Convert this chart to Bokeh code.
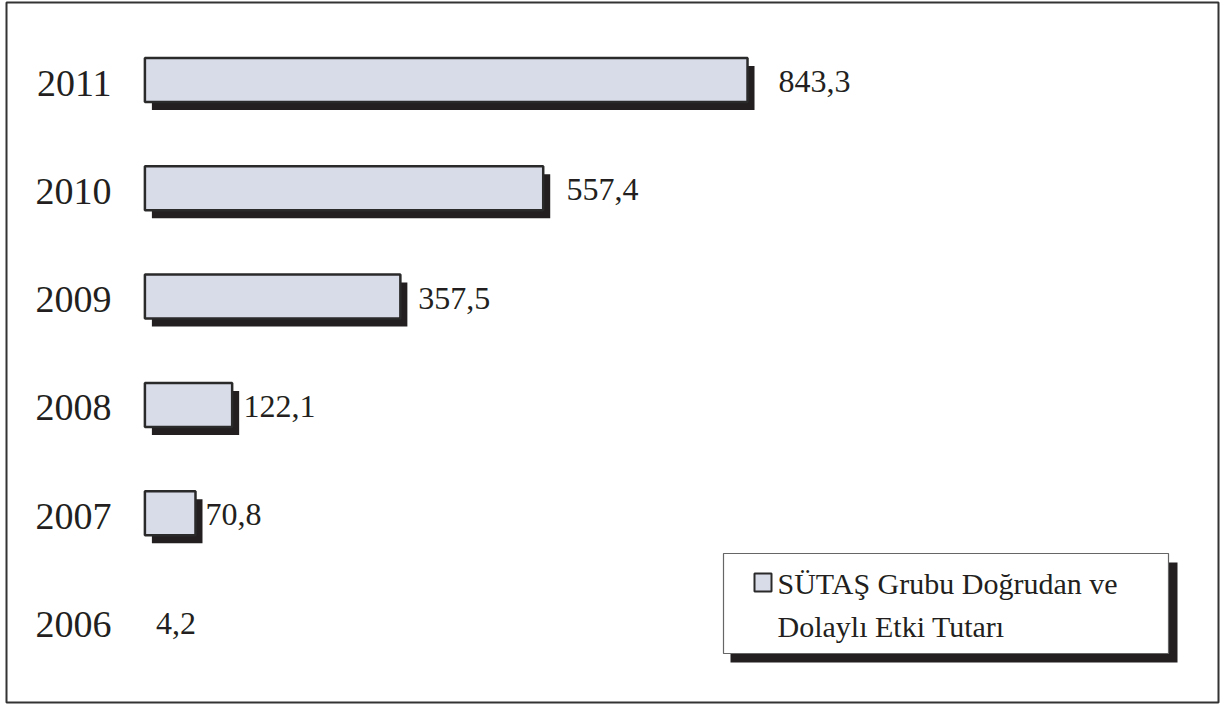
from bokeh.plotting import figure
from bokeh.models import Range1d, ColumnDataSource
from bokeh.embed import file_html
from bokeh.resources import INLINE
from bokeh.core.properties import value

# ---- data ----
years = ["2006", "2007", "2008", "2009", "2010", "2011"]
amounts = [4.2, 70.8, 122.1, 357.5, 557.4, 843.3]
amount_labels = ["4,2", "70,8", "122,1", "357,5", "557,4", "843,3"]
legend_lines = ["SÜTAŞ Grubu Doğrudan ve", "Dolaylı Etki Tutarı"]
MIN_VISIBLE = 10  # bars below this value are not drawn (as in the source chart)

# ---- layout constants (page pixels) ----
W, H = 1220, 704
FL, FT, FR, FB = 6, 2, 1218, 702       # frame (outer border) edges
BAR_X0, BAR_K = 144.4, 0.7146          # bar scale: x = BAR_X0 + BAR_K * v
LBL_X0, LBL_K = 152.5, 0.7417          # value-label scale
Y_TOP, Y_STEP = 79.5, 108.3            # center of top category, spacing
SHADOW_DX, SHADOW_DY = 7, 8
FONT = value("Liberation Serif")
BAR_FILL = "#d8dbe8"
DARK = "#231f20"
n = len(years)


def xr(x0, k, shift=0.0):
    return Range1d((FL - x0 - shift) / k, (FR - x0 - shift) / k)


def yr(shift=0.0):
    top = (n - 1) + (Y_TOP + shift - FT) / Y_STEP
    bottom = (n - 1) - (FB - Y_TOP - shift) / Y_STEP
    return Range1d(bottom, top)


p = figure(width=W, height=H, x_range=xr(BAR_X0, BAR_K), y_range=yr(),
           output_backend="svg", toolbar_location=None,
           min_border_left=FL, min_border_top=FT,
           min_border_right=W - FR, min_border_bottom=H - FB,
           x_axis_location=None, y_axis_location=None)
p.grid.visible = False
p.outline_line_color = "#333333"
p.outline_line_width = 2
p.background_fill_color = "white"
p.border_fill_color = "white"

p.extra_x_ranges = {"shx": xr(BAR_X0, BAR_K, SHADOW_DX),
                    "lbl": xr(LBL_X0, LBL_K),
                    "px": Range1d(FL, FR)}
p.extra_y_ranges = {"shy": yr(SHADOW_DY), "px": Range1d(FB, FT)}

idx = list(range(n))
vis = [i for i in idx if amounts[i] >= MIN_VISIBLE]
bars = ColumnDataSource(dict(y=vis, right=[amounts[i] for i in vis]))

# shadows
p.hbar(y="y", left=0, right="right", height=0.406, source=bars,
       x_range_name="shx", y_range_name="shy",
       fill_color=DARK, line_color=None)
# bars
p.hbar(y="y", left=0, right="right", height=0.406, source=bars,
       fill_color=BAR_FILL, line_color="#2a2a2a", line_width=2.5)

# value labels
p.text(x=amounts, y=idx, text=amount_labels, x_range_name="lbl",
       text_font=FONT, text_font_size="32px", text_color=DARK,
       text_baseline="alphabetic", y_offset=1.5)

# year labels
p.text(x=[111] * n, y=idx, text=years, x_range_name="px",
       text_font=FONT, text_font_size="38px", text_color=DARK,
       text_align="right", text_baseline="alphabetic", y_offset=3)

# legend box with shadow
p.quad(left=[730], right=[1177], top=[562], bottom=[662],
       x_range_name="px", y_range_name="px", fill_color=DARK, line_color=None)
p.quad(left=[723], right=[1168], top=[553], bottom=[653],
       x_range_name="px", y_range_name="px", fill_color="white",
       line_color="#666666", line_width=1.2)
p.quad(left=[754], right=[771], top=[573], bottom=[591],
       x_range_name="px", y_range_name="px", fill_color=BAR_FILL,
       line_color="#2a2a2a", line_width=2)
p.text(x=[777, 777], y=[583, 626], text=legend_lines,
       x_range_name="px", y_range_name="px",
       text_font=FONT, text_font_size="30px", text_color=DARK,
       text_baseline="alphabetic")

open("out.html", "w").write(file_html(p, INLINE))
